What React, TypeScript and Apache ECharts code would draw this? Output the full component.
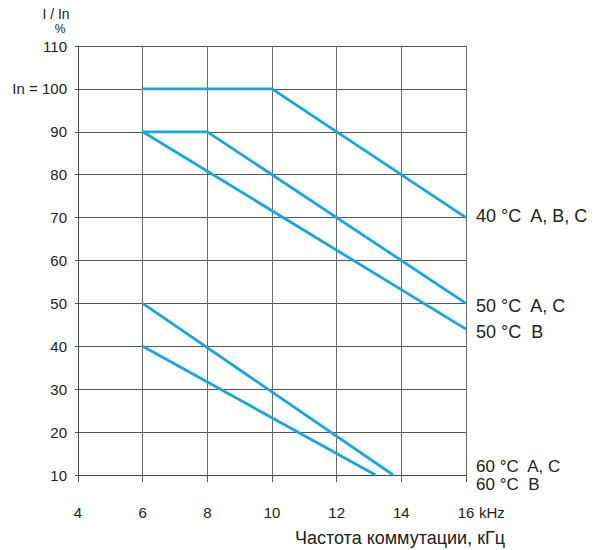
import React, { useEffect, useRef } from "react";
import * as echarts from "echarts";

const xTicks = [4, 6, 8, 10, 12, 14, 16];
const yTicks = [10, 20, 30, 40, 50, 60, 70, 80, 90, 100, 110];

const s40ABC: [number, number][] = [[6, 100], [10, 100], [16, 70]];
const s50AC: [number, number][] = [[6, 90], [8, 90], [16, 50]];
const s50B: [number, number][] = [[6, 90], [16, 44]];
const s60AC: [number, number][] = [[6, 50], [13.75, 10]];
const s60B: [number, number][] = [[6, 40], [13.2, 10]];

const seriesNames = ["40 °C  A, B, C", "50 °C  A, C", "50 °C  B", "60 °C  A, C", "60 °C  B"];
const seriesData = [s40ABC, s50AC, s50B, s60AC, s60B];

const FONT = "'Liberation Sans', Arial, sans-serif";
const BLUE = "#16a6e0";

export default function App() {
  const ref = useRef<HTMLDivElement>(null);
  useEffect(() => {
    if (!ref.current) return;
    const chart = echarts.init(ref.current, null, { renderer: "svg" });
    const labelPos: [number, number, number][] = [
      [476, 216, 18],
      [476, 306, 18],
      [476, 332, 18],
      [476, 466.5, 17],
      [476, 484, 17],
    ];
    chart.setOption({
      animation: false,
      grid: { left: 78, right: 129, top: 46, bottom: 75 },
      xAxis: {
        type: "value",
        min: xTicks[0],
        max: xTicks[xTicks.length - 1],
        interval: 2,
        axisLine: { show: true, lineStyle: { color: "#444", width: 1 } },
        axisTick: { show: true, length: 7, lineStyle: { color: "#555" } },
        axisLabel: { margin: 30, color: "#222", fontSize: 15, fontFamily: FONT },
        splitLine: { show: true, lineStyle: { color: "#6a6a6a", width: 1 } },
      },
      yAxis: {
        type: "value",
        min: yTicks[0],
        max: yTicks[yTicks.length - 1],
        interval: 10,
        axisLine: { show: true, lineStyle: { color: "#444", width: 1 } },
        axisTick: { show: true, length: 3, lineStyle: { color: "#555" } },
        axisLabel: {
          margin: 11,
          color: "#222",
          fontSize: 15,
          fontFamily: FONT,
          formatter: (v: number) => (v === 100 ? "In = 100" : String(v)),
        },
        splitLine: { show: true, lineStyle: { color: "#555", width: 1 } },
      },
      series: seriesData.map((d, i) => ({
        name: seriesNames[i],
        type: "line",
        data: d,
        symbol: "none",
        lineStyle: { color: BLUE, width: 2.8 },
      })),
      graphic: [
        {
          type: "text",
          x: 56,
          y: 14,
          style: { text: "I / In", font: `14px ${FONT}`, fill: "#222", align: "center", verticalAlign: "middle" },
        },
        {
          type: "text",
          x: 60,
          y: 29,
          style: { text: "%", font: `12px ${FONT}`, fill: "#222", align: "center", verticalAlign: "middle" },
        },
        {
          type: "text",
          x: 479,
          y: 512,
          style: { text: "kHz", font: `15px ${FONT}`, fill: "#222", align: "left", verticalAlign: "middle" },
        },
        {
          type: "text",
          x: 400,
          y: 538,
          style: {
            text: "Частота коммутации, кГц",
            font: `18px ${FONT}`,
            fill: "#222",
            align: "center",
            verticalAlign: "middle",
          },
        },
        ...seriesNames.map((n, i) => ({
          type: "text",
          x: labelPos[i][0],
          y: labelPos[i][1],
          style: {
            text: n,
            font: `${labelPos[i][2]}px ${FONT}`,
            fill: "#222",
            align: "left",
            verticalAlign: "middle",
          },
        })),
      ],
    });
    return () => chart.dispose();
  }, []);
  return <div ref={ref} style={{ width: 595, height: 550, position: "absolute", left: 0, top: 0 }} />;
}
